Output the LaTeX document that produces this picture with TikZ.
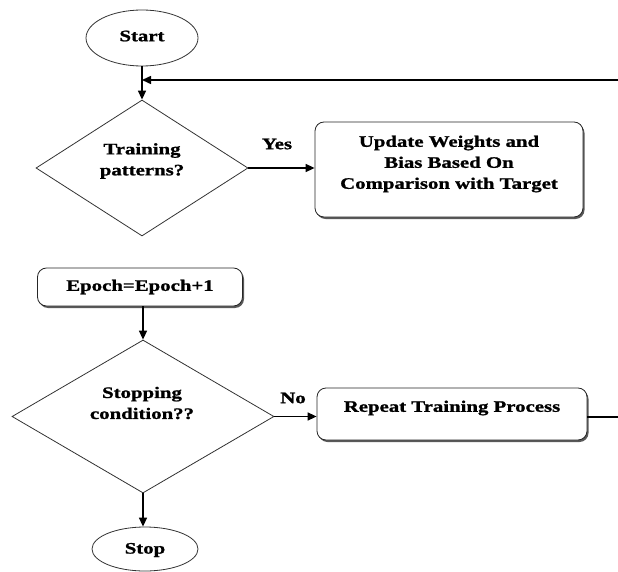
\documentclass[tikz,border=0pt]{standalone}
\usepackage{fontspec}
\setmainfont{Liberation Serif}[FakeStretch=1.3,BoldFeatures={FakeBold=1.2}]
\usetikzlibrary{shapes.geometric,arrows.meta,shadows}
\begin{document}
\begin{tikzpicture}[x=1pt,y=-1pt,
  every node/.style={font=\bfseries\fontsize{16}{21}\selectfont},
  term/.style={ellipse,draw=black!80,line width=0.8pt,inner sep=0pt},
  decis/.style={diamond,draw=black!80,line width=0.8pt,inner sep=0pt},
  procbox/.style={rectangle,rounded corners=9pt,draw=black!85,line width=0.8pt,fill=white,
    drop shadow={shadow xshift=1.5pt,shadow yshift=-2pt,fill=black!65,opacity=1},inner sep=0pt},
  txt/.style={align=center,inner sep=0pt},
  conn/.style={line width=1.5pt,-{Triangle[length=9pt,width=8pt]}},
  plain/.style={line width=1.5pt}]
\useasboundingbox (0,0) rectangle (618,572);
% nodes
\node[term,minimum width=112pt,minimum height=56pt] (start) at (142,38) {};
\node[txt] (startT) at (142,36) {Start};
\coordinate (j) at (142,80);
\node[decis,minimum width=212pt,minimum height=136pt] (d1) at (142,168) {};
\node[txt] (d1T) at (142,161) {Training\\patterns?};
\node[txt] (yes) at (277,144) {Yes};
\node[procbox,minimum width=268pt,minimum height=95pt] (upd) at (449,169.5) {};
\node[txt] (updT) at (449,164) {Update Weights and\\Bias Based On\\Comparison with Target};
\node[procbox,minimum width=205pt,minimum height=38pt] (ep) at (140,287) {};
\node[txt] (epT) at (140,287) {Epoch=Epoch+1};
\node[decis,minimum width=262pt,minimum height=153pt] (d2) at (143,416.5) {};
\node[txt] (d2T) at (142,403) {Stopping\\condition??};
\node[txt] (no) at (293,398) {No};
\node[procbox,minimum width=270pt,minimum height=52pt] (rep) at (452,414) {};
\node[txt] (repT) at (452,408) {Repeat Training Process};
\node[term,minimum width=106pt,minimum height=44pt] (stop) at (145,549) {};
\node[txt] (stopT) at (145,550) {Stop};
\coordinate (rr) at (618,417);
\coordinate (tr) at (618,80);
% connectors
\draw[conn] (start.south) -- (d1.north);
\draw[conn] (tr) -- (j);
\draw[conn] (d1.east) -- (d1.east -| upd.west);
\draw[conn] (ep.south -| d2.north) -- (d2.north);
\draw[conn] (d2.east) -- (d2.east -| rep.west);
\draw[conn] (d2.south) -- (d2.south |- stop.north);
\draw[plain] (rep.east |- rr) -- (rr);
\end{tikzpicture}
\end{document}
